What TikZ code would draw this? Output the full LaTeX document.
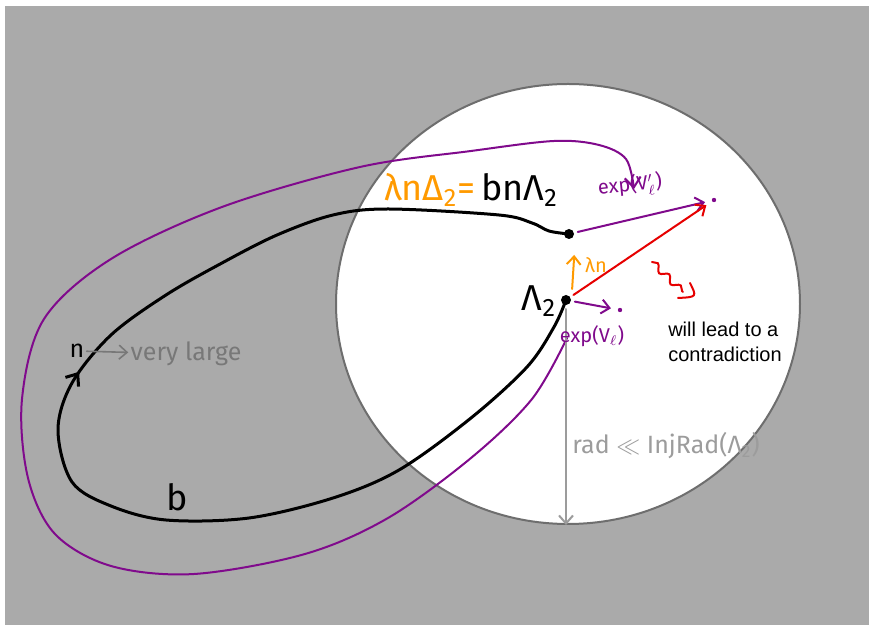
\documentclass[tikz,border=0pt]{standalone}
\usepackage{fontspec}
\setmainfont{Liberation Sans}
\newfontfamily\handfont{Fira Sans}
\usepackage{tikz}
\usetikzlibrary{arrows.meta,positioning,shapes.geometric,decorations.pathmorphing,decorations.markings}
\definecolor{bgGray}{HTML}{AAAAAA}
\definecolor{ballRim}{HTML}{6E6E6E}
\definecolor{hwPurple}{HTML}{800A8C}
\definecolor{hwOrange}{HTML}{FF9A00}
\definecolor{hwRed}{HTML}{E60000}
\definecolor{hwGray}{HTML}{9C9C9C}
\definecolor{hwDark}{HTML}{787878}
\begin{document}
\begin{tikzpicture}[
  x=0.5pt,y=-0.5pt,>={Straight Barb[length=4pt,width=7pt]},
  handL/.style={font=\handfont\fontsize{18}{20}\selectfont,inner sep=1pt},
  handM/.style={font=\handfont\fontsize{12.5}{15}\selectfont,inner sep=1pt},
  handS/.style={font=\handfont\fontsize{10}{12}\selectfont,inner sep=1pt},
  dot/.style={circle,fill=black,inner sep=0pt,minimum size=5pt,outer sep=2pt},
  tipdot/.style={circle,fill=hwPurple,inner sep=0pt,minimum size=2.2pt,outer sep=3.5pt},
  loopline/.style={line width=1.5pt,line cap=round,line join=round},
  pathline/.style={hwPurple,line width=1pt,line cap=round},
  vecline/.style={->,line width=1pt,line cap=round}
]
\useasboundingbox (0,0) rectangle (869,625);
\fill[white] (0,0) rectangle (869,625);
\fill[bgGray] (5,6) rectangle (869,625);
\node[ellipse,draw=ballRim,line width=1pt,fill=white,inner sep=0pt,
      minimum width=232pt,minimum height=220pt] (ball) at (568,304) {};

% points of the loop
\node[dot] (p1) at (569,234) {};
\node[dot] (p0) at (566,300) {};
\node[tipdot] (qtop) at (714,200) {};
\node[tipdot] (qlow) at (620,310) {};
\coordinate (vstart) at (567,338);
\coordinate (vend) at (634,189);

% the loop b
\draw[loopline,postaction={decorate,decoration={markings,
      mark=at position 0.435 with {\arrowreversed{Straight Barb[length=5pt,width=8pt]}}}}]
  plot[smooth,tension=0.55] coordinates {(p1) (549,231) (532,223) (499,215) (388,209)
  (333,215) (277,235) (222,263) (166,295) (111,335) (72,383) (58,430) (72,482)
  (111,506) (166,520) (249,518) (333,498) (399,470) (471,418) (527,367) (554,327) (p0)};

% the long purple path
\draw[pathline,->,>={Straight Barb[length=5pt,width=8pt]}]
  plot[smooth,tension=0.55] coordinates {(vstart) (532,399) (471,458) (388,518)
  (305,554) (194,574) (111,566) (55,534) (28,478) (22,399) (44,319) (111,259)
  (222,207) (360,167) (471,151) (554,141) (599,145) (626,159) (vend)};

\draw[vecline,hwGray] (p0) -- (p0 |- ball.south);
\draw[vecline,hwPurple] (p1) -- (qtop);
\draw[vecline,hwPurple] (p0) -- (qlow);
\draw[vecline,hwRed] (p0) -- (qtop);
\draw[vecline,hwOrange,shorten <=1pt,shorten >=6pt] ([xshift=3]p0.north) -- ([xshift=3]p1.south);

% leads-to squiggle
\coordinate (sq1) at (652,262);
\coordinate (sq2) at (683,292);
\draw[hwRed,line width=1pt,line cap=round,decorate,
      decoration={snake,amplitude=1.6pt,segment length=8pt}] (sq1) -- (sq2);
\draw[hwRed,line width=1pt,line cap=round] (690,283) .. controls (697,297) .. (678,298);

% labels
\node[handL] (eqn) at (471,190) {\textcolor{hwOrange}{λnΔ\textsubscript{2}=}\,bnΛ\textsubscript{2}};
\node[handL] (lam) at (539,301) {Λ\textsubscript{2}};
\node[handS,text=hwOrange] (lamn) at (596,265) {λn};
\node[handS,text=hwPurple,rotate=6] (expt) at (630,186) {exp(V$'_{\ell}$)};
\node[handS,text=hwPurple] (expl) at (592,336) {exp(V$_{\ell}$)};
\node[align=left,font=\fontsize{10}{12.5}\selectfont] (contra) at (725,342) {will lead to a\\contradiction};
\node[handM,text=hwGray] (rad) at (666,446) {rad $\ll$ InjRad(Λ\textsubscript{2})};
\node[handM] (nlbl) at (77,351) {n};
\node[handM,text=hwDark] (large) at (186,354) {very large};
\draw[vecline,hwDark,line width=0.8pt] (nlbl) -- (large);
\node[handL] (blbl) at (177,497) {b};
\end{tikzpicture}
\end{document}
